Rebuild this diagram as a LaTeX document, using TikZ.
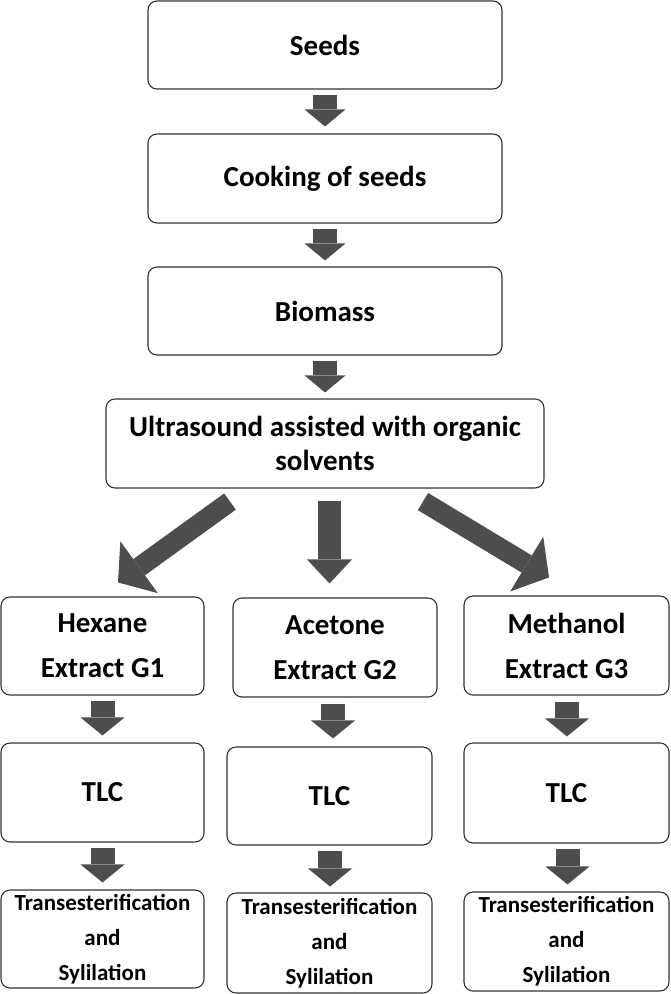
\documentclass[tikz,border=0pt]{standalone}
\usepackage{fontspec}
\setmainfont{Carlito}
\usetikzlibrary{arrows.meta}
\definecolor{arrowgray}{HTML}{4D4D4D}
\definecolor{boxline}{HTML}{333333}
\tikzset{
  box/.style={draw=boxline, line width=1.1pt, rounded corners=9pt, fill=white,
    inner sep=0pt, align=center, font=\bfseries\fontsize{29}{35}\selectfont},
  extbox/.style={box, font=\bfseries\fontsize{29}{45}\selectfont},
  botbox/.style={box, font=\bfseries\fontsize{23}{35}\selectfont},
  fatv/.style={draw=arrowgray, line width=24pt,
    -{Triangle[length=17pt,width=41pt,line width=0pt]}},
  fatrow/.style={draw=arrowgray, line width=24pt,
    -{Triangle[length=18pt,width=44pt,line width=0pt]}},
  fatmid/.style={draw=arrowgray, line width=23pt,
    -{Triangle[length=24pt,width=45pt,line width=0pt]}},
  fatdiag/.style={draw=arrowgray, line width=20pt,
    -{Triangle[length=26pt,width=64pt,line width=0pt]}},
}
\begin{document}
\begin{tikzpicture}[x=1pt,y=-1pt]
\useasboundingbox (0,0) rectangle (670,994);

% main chain
\node[box, minimum width=354pt, minimum height=88pt] (seeds) at (325,45) {Seeds};
\node[box, minimum width=354pt, minimum height=89pt] (cook) at (325,178.5) {Cooking of seeds};
\node[box, minimum width=354pt, minimum height=88pt] (bio) at (325,311) {Biomass};
\node[box, minimum width=438pt, minimum height=89pt, font=\bfseries\fontsize{29}{34}\selectfont] (ultra) at (325,443.5) {Ultrasound assisted with organic\\solvents};

% extracts
\node[extbox, minimum width=203pt, minimum height=98pt] (hex) at (102.5,646) {Hexane\\Extract G1};
\node[extbox, minimum width=204pt, minimum height=99pt] (ace) at (335,647.5) {Acetone\\Extract G2};
\node[extbox, minimum width=205pt, minimum height=99pt] (meth) at (566.5,645.5) {Methanol\\Extract G3};

% TLC
\node[box, minimum width=203pt, minimum height=99pt] (tlc1) at (102.5,792.5) {TLC};
\node[box, minimum width=205pt, minimum height=98pt] (tlc2) at (329.5,796) {TLC};
\node[box, minimum width=205pt, minimum height=100pt] (tlc3) at (566.5,793) {TLC};

% bottom
\node[botbox, minimum width=203pt, minimum height=98pt] (bot1) at (102.5,939) {Transesterification\\and\\Sylilation};
\node[botbox, minimum width=205pt, minimum height=100pt] (bot2) at (329.5,943) {Transesterification\\and\\Sylilation};
\node[botbox, minimum width=205pt, minimum height=99pt] (bot3) at (566.5,941.5) {Transesterification\\and\\Sylilation};

% vertical arrows in the chain
\draw[fatv] ([yshift=-5pt]seeds.south) -- ([yshift=7pt]cook.north);
\draw[fatv] ([yshift=-5pt]cook.south) -- ([yshift=6pt]bio.north);
\draw[fatv] ([yshift=-5pt]bio.south) -- ([yshift=6pt]ultra.north);

% split arrows
\draw[fatdiag] ([xshift=-95pt,yshift=-13pt]ultra.south) -- ([xshift=15.5pt,yshift=14pt]hex.north);
\draw[fatmid] ([xshift=4.5pt,yshift=-12pt]ultra.south) -- ([xshift=-5.5pt,yshift=14pt]ace.north);
\draw[fatdiag] ([xshift=98pt,yshift=-13pt]ultra.south) -- ([xshift=-17.5pt,yshift=18pt]meth.north);

% column arrows
\draw[fatrow] ([yshift=-5pt]hex.south) -- ([yshift=7pt]tlc1.north);
\draw[fatrow] ([xshift=-2pt,yshift=-6pt]ace.south) -- ([xshift=3.5pt,yshift=8pt]tlc2.north);
\draw[fatrow] ([xshift=0.5pt,yshift=-6pt]meth.south) -- ([xshift=0.5pt,yshift=6pt]tlc3.north);

\draw[fatrow] ([yshift=-5pt]tlc1.south) -- ([yshift=7pt]bot1.north);
\draw[fatrow] ([xshift=0.5pt,yshift=-5pt]tlc2.south) -- ([xshift=0.5pt,yshift=6pt]bot2.north);
\draw[fatrow] ([xshift=1pt,yshift=-5pt]tlc3.south) -- ([xshift=1pt,yshift=7pt]bot3.north);
\end{tikzpicture}
\end{document}
